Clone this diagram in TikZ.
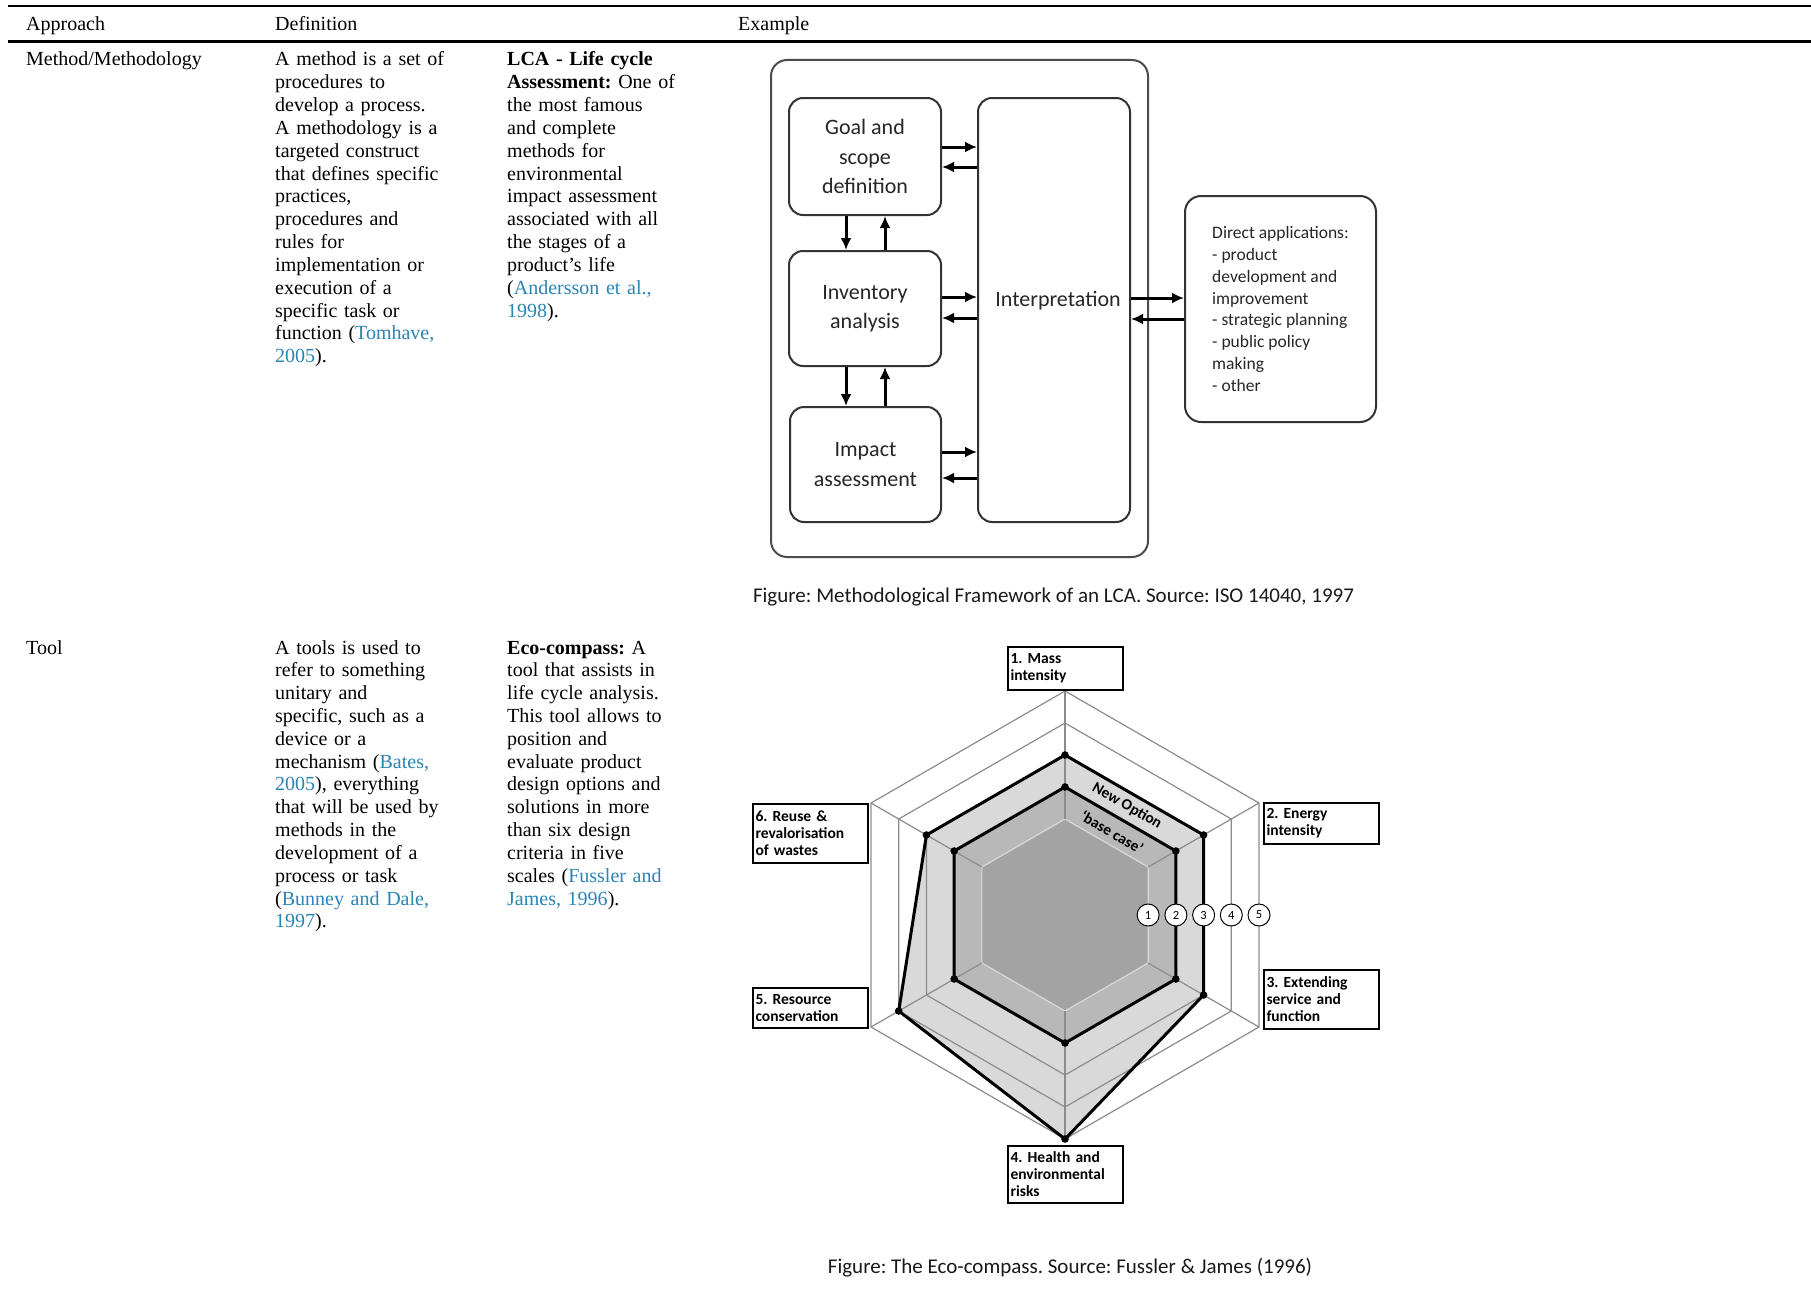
\documentclass[tikz,border=0pt]{standalone}
\usepackage{fontspec}
\setmainfont{Liberation Serif}
\newfontfamily\figsans{Carlito}
\usetikzlibrary{arrows.meta,calc}
\definecolor{linkblue}{HTML}{2A84B5}
\newcommand{\lnk}[1]{\textcolor{linkblue}{#1}}
\frenchspacing
\tikzset{
  cellA/.style={anchor=base west, inner sep=0pt, text width=225pt, align=left, font=\frenchspacing\fontsize{20}{22.83}\selectfont},
  hdr/.style={anchor=base west, inner sep=0pt, font=\fontsize{20}{24}\selectfont},
  lcabox/.style={draw=black!80, line width=2pt, rounded corners=14pt, align=center, text=black!85,
     font=\figsans\fontsize{22}{29.5}\selectfont},
  flow/.style={line width=3pt, -{Latex[length=12pt,width=11pt]}},
  ecogrid/.style={draw=black!45, line width=1.2pt},
  polyline/.style={draw=black, line width=3pt, line join=round},
  ecolabel/.style={draw=black, line width=2pt, fill=white, inner sep=3pt, text width=109pt, align=left,
     font=\figsans\bfseries\fontsize{15.5}{17}\selectfont},
  scalenum/.style={circle, draw=black, line width=1pt, fill=white, minimum size=22pt, inner sep=0pt,
     font=\figsans\fontsize{12.5}{12.5}\selectfont},
  captxt/.style={inner sep=0pt, font=\figsans\fontsize{21}{23}\selectfont, text=black!90}
}
\begin{document}
\begin{tikzpicture}[x=1pt,y=-1pt]
\fill[white] (0,0) rectangle (1811,1306);
\useasboundingbox (0,0) rectangle (1811,1306);

% ---------- table rules and header ----------
\draw[line width=2.5pt] (8,6) -- (1811,6);
\draw[line width=3pt] (8,41.5) -- (1811,41.5);
\node[hdr] (hA) at (26,31) {Approach};
\node[hdr] (hD) at (275,31) {Definition};
\node[hdr] (hE) at (738,31) {Example};

% ---------- row 1 ----------
\node[cellA] (r1a) at (26,66) {Method/Methodology};
\node[cellA] (r1b) at (275,66) {A method is a set of\\
procedures to\\
develop a process.\\
A methodology is a\\
targeted construct\\
that defines specific\\
practices,\\
procedures and\\
rules for\\
implementation or\\
execution of a\\
specific task or\\
function (\lnk{Tomhave,}\\
\lnk{2005}).};
\node[cellA] (r1c) at (507,66) {\textbf{LCA - Life cycle}\\
\textbf{Assessment:} One of\\
the most famous\\
and complete\\
methods for\\
environmental\\
impact assessment\\
associated with all\\
the stages of a\\
product’s life\\
(\lnk{Andersson et al.,}\\
\lnk{1998}).};

% ---------- row 2 ----------
\node[cellA] (r2a) at (26,654) {Tool};
\node[cellA] (r2b) at (275,654) {A tools is used to\\
refer to something\\
unitary and\\
specific, such as a\\
device or a\\
mechanism (\lnk{Bates,}\\
\lnk{2005}), everything\\
that will be used by\\
methods in the\\
development of a\\
process or task\\
(\lnk{Bunney and Dale,}\\
\lnk{1997}).};
\node[cellA] (r2c) at (507,654) {\textbf{Eco-compass:} A\\
tool that assists in\\
life cycle analysis.\\
This tool allows to\\
position and\\
evaluate product\\
design options and\\
solutions in more\\
than six design\\
criteria in five\\
scales (\lnk{Fussler and}\\
\lnk{James, 1996}).};

% ---------- LCA framework ----------
\node[draw=black!70, line width=2pt, rounded corners=16pt, minimum width=377pt, minimum height=497pt] (outer) at (959.5,308.5) {};
\node[lcabox, minimum width=152pt, minimum height=117pt] (goal) at (865,156.5) {Goal and\\scope\\definition};
\node[lcabox, minimum width=152pt, minimum height=115pt] (inv) at (865,308.5) {Inventory\\analysis};
\node[lcabox, minimum width=151pt, minimum height=115pt] (imp) at (865.5,464.5) {Impact\\assessment};
\node[lcabox, minimum width=152pt, minimum height=424pt] (interp) at (1054,310) {};
\node[inner sep=0pt, font=\figsans\fontsize{22}{29.5}\selectfont, text=black!85] (interptxt) at (1058,301) {Interpretation};
\node[draw=black!80, line width=2pt, rounded corners=16pt, minimum width=191pt, minimum height=226pt,
      align=left, text=black!85, font=\figsans\fontsize{17.5}{21.9}\selectfont] (direct) at (1280.5,309)
  {Direct applications:\\- product\\development and\\improvement\\- strategic planning\\- public policy\\making\\- other};

\draw[flow] ([yshift=9.5pt]goal.east) -- ([yshift=9.5pt]goal.east -| interp.west);
\draw[flow] ([yshift=-10.5pt]goal.east -| interp.west) -- ([yshift=-10.5pt]goal.east);
\draw[flow] ([yshift=11.5pt]inv.east) -- ([yshift=11.5pt]inv.east -| interp.west);
\draw[flow] ([yshift=-9.5pt]inv.east -| interp.west) -- ([yshift=-9.5pt]inv.east);
\draw[flow] ([yshift=12.5pt]imp.east) -- ([yshift=12.5pt]imp.east -| interp.west);
\draw[flow] ([yshift=-13.5pt]imp.east -| interp.west) -- ([yshift=-13.5pt]imp.east);
\draw[flow] ([yshift=12pt]interp.east) -- ([yshift=12pt]interp.east -| direct.west);
\draw[flow] ([yshift=-9pt]interp.east -| direct.west) -- ([yshift=-9pt]interp.east);

\draw[flow] ([xshift=-19pt]goal.south) -- ([xshift=-19pt]goal.south |- inv.north);
\draw[flow] ([xshift=20pt]goal.south |- inv.north) -- ([xshift=20pt]goal.south);
\draw[flow] ([xshift=-19pt]inv.south) -- ([xshift=-19pt]inv.south |- imp.north);
\draw[flow] ([xshift=20pt]inv.south |- imp.north) -- ([xshift=20pt]inv.south);

\node[captxt] (cap1) at (1053.5,597) {Figure: Methodological Framework of an LCA. Source: ISO 14040, 1997};

% ---------- Eco-compass ----------
\coordinate (C) at (1065,915);
\foreach \k/\r in {1/96,2/128,3/160,4/192,5/224}{
  \foreach \a [count=\i] in {90,30,-30,-90,-150,150}{
    \coordinate (h\k-\i) at ($(C)+(\a:\r pt)$);
  }
}
\fill[black!15] (h3-1) -- (h3-2) -- (h3-3) -- (h5-4) -- (h4-5) -- (h3-6) -- cycle;
\fill[black!28] (h2-1) -- (h2-2) -- (h2-3) -- (h2-4) -- (h2-5) -- (h2-6) -- cycle;
\fill[black!36] (h1-1) -- (h1-2) -- (h1-3) -- (h1-4) -- (h1-5) -- (h1-6) -- cycle;
\draw[draw=black!15, line width=1.2pt] (h1-1) -- (h1-2) -- (h1-3) -- (h1-4) -- (h1-5) -- (h1-6) -- cycle;
\foreach \k in {3,4,5}{
  \draw[ecogrid] (h\k-1) -- (h\k-2) -- (h\k-3) -- (h\k-4) -- (h\k-5) -- (h\k-6) -- cycle;
}
\foreach \i in {1,...,6}{
  \draw[ecogrid] (h1-\i) -- (h5-\i);
}
\draw[polyline] (h3-1) -- (h3-2) -- (h3-3) -- (h5-4) -- (h4-5) -- (h3-6) -- cycle;
\draw[polyline] (h2-1) -- (h2-2) -- (h2-3) -- (h2-4) -- (h2-5) -- (h2-6) -- cycle;
\foreach \p in {h3-1,h3-2,h3-3,h5-4,h4-5,h3-6,h2-1,h2-2,h2-3,h2-4,h2-5,h2-6}{
  \fill (\p) circle (3.8pt);
}

\node[inner sep=0pt, rotate=-30, font=\figsans\bfseries\fontsize{15.5}{15.5}\selectfont] (newopt) at (1127,806) {New Option};
\node[inner sep=0pt, rotate=-30, font=\figsans\bfseries\fontsize{15.5}{15.5}\selectfont] (basecase) at (1112,832) {‘base case’};

\node[scalenum] (s1) at ($(C)+(83.1,0)$) {1};
\node[scalenum] (s2) at ($(C)+(110.9,0)$) {2};
\node[scalenum] (s3) at ($(C)+(138.6,0)$) {3};
\node[scalenum] (s4) at ($(C)+(166.3,0)$) {4};
\node[scalenum] (s5) at ($(C)+(194.0,0)$) {5};

\node[ecolabel, minimum height=43pt] (L1) at (1065,668.5) {1. Mass\\intensity};
\node[ecolabel, minimum height=41pt] (L2) at (1321,823.5) {2. Energy\\intensity};
\node[ecolabel, minimum height=59pt] (L3) at (1321,999.5) {3. Extending\\service and\\function};
\node[ecolabel, minimum height=57pt] (L4) at (1065,1174.5) {4. Health and\\environmental\\risks};
\node[ecolabel, minimum height=40pt] (L5) at (810,1008) {5. Resource\\conservation};
\node[ecolabel, minimum height=59pt] (L6) at (810,833.5) {6. Reuse \&\\revalorisation\\of wastes};

\node[captxt] (cap2) at (1070,1268) {Figure: The Eco-compass. Source: Fussler \& James (1996)};
\end{tikzpicture}
\end{document}
